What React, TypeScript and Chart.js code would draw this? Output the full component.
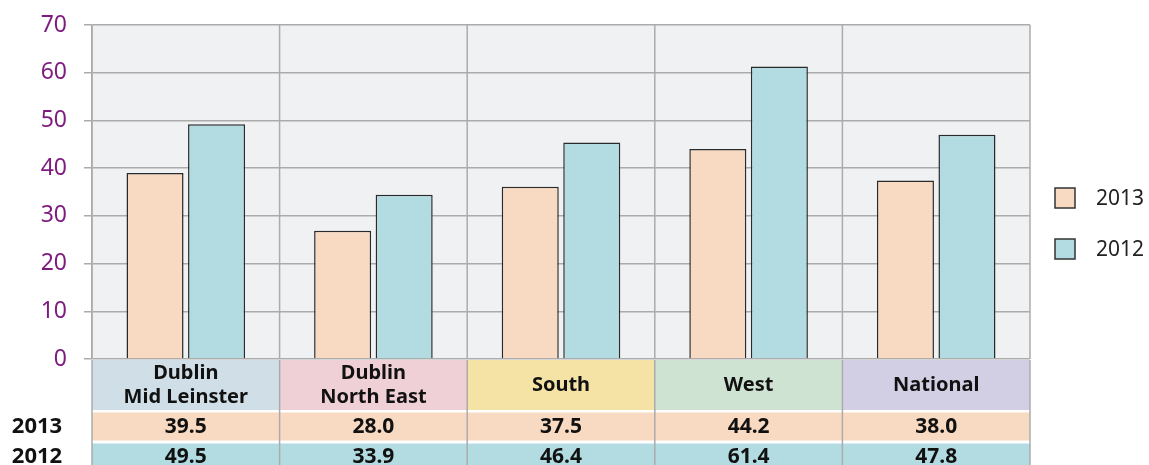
import React, { useEffect, useRef } from "react";
import { Chart, registerables } from "chart.js";

Chart.register(...registerables);

const categories: string[][] = [
  ["Dublin", "Mid Leinster"],
  ["Dublin", "North East"],
  ["South"],
  ["West"],
  ["National"],
];
const categoryColors = ["#d0dfe7", "#efd0d6", "#f5e3a6", "#cfe3d3", "#d2cee3"];
const seriesNames = ["2013", "2012"];
const values2013 = [39.0, 26.9, 36.1, 44.0, 37.4];
const values2012 = [49.2, 34.4, 45.4, 61.3, 47.0];
const table2013 = ["39.5", "28.0", "37.5", "44.2", "38.0"];
const table2012 = ["49.5", "33.9", "46.4", "61.4", "47.8"];
const yTicks = [0, 10, 20, 30, 40, 50, 60, 70];

const COLOR_2013 = "#f8dac2";
const COLOR_2012 = "#b2dce2";
const GRID = "#ababab";
const FONT = "'Noto Sans', sans-serif";

export default function App() {
  const ref = useRef<HTMLCanvasElement | null>(null);

  useEffect(() => {
    const canvas = ref.current;
    if (!canvas) return;

    const boundaries = (chart: any) => {
      const xs = chart.scales.x;
      const n = categories.length;
      const w = (chart.chartArea.right - chart.chartArea.left) / n;
      const arr: number[] = [];
      for (let i = 0; i <= n; i++) {
        const c = i < n ? xs.getPixelForValue(i) - w / 2 : xs.getPixelForValue(n - 1) + w / 2;
        arr.push(c);
      }
      return { arr, w };
    };

    const tablePlugin = {
      id: "tablePlugin",
      beforeDraw(chart: any) {
        const { ctx, chartArea } = chart;
        ctx.save();
        ctx.fillStyle = "#f0f1f3";
        ctx.fillRect(chartArea.left, chartArea.top, chartArea.right - chartArea.left, chartArea.bottom - chartArea.top);
        ctx.restore();
      },
      beforeDatasetsDraw(chart: any) {
        const { ctx, chartArea } = chart;
        const { arr } = boundaries(chart);
        ctx.save();
        ctx.strokeStyle = GRID;
        ctx.lineWidth = 1.5;
        arr.forEach((x) => {
          ctx.beginPath();
          ctx.moveTo(x, chartArea.top);
          ctx.lineTo(x, chartArea.bottom);
          ctx.stroke();
        });
        ctx.restore();
      },
      afterDraw(chart: any) {
        const { ctx, chartArea } = chart;
        const { arr } = boundaries(chart);
        const top = chartArea.bottom + 1;
        const catBottom = 410;
        const r1Top = 412.5, r1Bottom = 440.5;
        const r2Top = 443.5, r2Bottom = 470;
        ctx.save();
        for (let i = 0; i < categories.length; i++) {
          const x0 = arr[i], x1 = arr[i + 1];
          ctx.fillStyle = categoryColors[i];
          ctx.fillRect(x0, top, x1 - x0, catBottom - top);
          ctx.fillStyle = COLOR_2013;
          ctx.fillRect(x0, r1Top, x1 - x0, r1Bottom - r1Top);
          ctx.fillStyle = COLOR_2012;
          ctx.fillRect(x0, r2Top, x1 - x0, r2Bottom - r2Top);
        }
        ctx.strokeStyle = GRID;
        ctx.lineWidth = 1.5;
        arr.forEach((x) => {
          ctx.beginPath();
          ctx.moveTo(x, top);
          ctx.lineTo(x, 465);
          ctx.stroke();
        });
        ctx.fillStyle = "#111";
        ctx.textAlign = "center";
        ctx.textBaseline = "middle";
        for (let i = 0; i < categories.length; i++) {
          const cx = (arr[i] + arr[i + 1]) / 2;
          const lines = categories[i];
          const mid = (top + catBottom) / 2;
          const lh = 24;
          ctx.font = `bold 20px ${FONT}`;
          lines.forEach((l, j) => {
            const y = mid + (j - (lines.length - 1) / 2) * lh;
            ctx.fillText(l, cx, y);
          });
          ctx.font = `bold 21px ${FONT}`;
          ctx.fillText(table2013[i], cx, 427);
          ctx.fillText(table2012[i], cx, 457);
        }
        ctx.font = `bold 22px ${FONT}`;
        ctx.fillText(seriesNames[0], 37, 427);
        ctx.fillText(seriesNames[1], 37, 457);

        // legend
        const legendColors = [COLOR_2013, COLOR_2012];
        const legendY = [198, 249];
        ctx.font = `21px ${FONT}`;
        ctx.textAlign = "left";
        for (let k = 0; k < 2; k++) {
          ctx.fillStyle = legendColors[k];
          ctx.fillRect(1055, legendY[k] - 10, 20, 20);
          ctx.strokeStyle = "#333";
          ctx.lineWidth = 1.5;
          ctx.strokeRect(1055, legendY[k] - 10, 20, 20);
          ctx.fillStyle = "#222";
          ctx.fillText(seriesNames[k], 1096, legendY[k] + 1);
        }
        ctx.restore();
      },
    };

    const chart = new Chart(canvas, {
      type: "bar",
      data: {
        labels: categories.map((c) => c.join(" ")),
        datasets: [
          {
            label: seriesNames[0],
            data: values2013,
            backgroundColor: COLOR_2013,
            borderColor: "#2a2a2a",
            borderWidth: 1.5,
            categoryPercentage: 0.656,
            barPercentage: 0.927,
          },
          {
            label: seriesNames[1],
            data: values2012,
            backgroundColor: COLOR_2012,
            borderColor: "#2a2a2a",
            borderWidth: 1.5,
            categoryPercentage: 0.656,
            barPercentage: 0.927,
          },
        ],
      },
      options: {
        responsive: false,
        animation: false,
        devicePixelRatio: 1,
        layout: { padding: { top: 25, right: 119, bottom: 106, left: 0 } },
        plugins: { legend: { display: false }, tooltip: { enabled: false } },
        scales: {
          x: { display: false },
          y: {
            min: 0,
            max: 70,
            afterBuildTicks: (scale: any) => {
              scale.ticks = yTicks.map((v) => ({ value: v }));
            },
            afterFit: (scale: any) => {
              scale.width = 92;
              scale.paddingTop = 0;
              scale.paddingBottom = 0;
            },
            ticks: {
              color: "#7d1b7e",
              font: { family: FONT, size: 23, lineHeight: 0.5 },
              padding: 17,
            },
            grid: {
              color: GRID,
              lineWidth: 1.5,
              tickLength: 8,
              drawTicks: true,
            },
            border: { display: true, color: GRID, width: 1.5 },
          },
        },
      },
      plugins: [tablePlugin],
    } as any);

    return () => chart.destroy();
  }, []);

  return (
    <div style={{ position: "fixed", left: 0, top: 0, width: 1149, height: 465, background: "#fff" }}>
      <canvas ref={ref} width={1149} height={465} style={{ width: 1149, height: 465, display: "block" }} />
    </div>
  );
}
